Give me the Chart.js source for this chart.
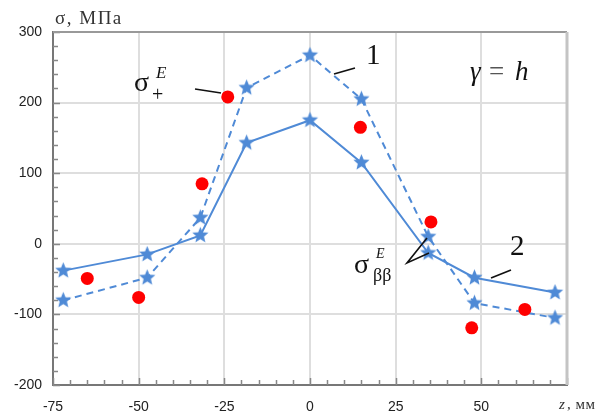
<!DOCTYPE html>
<html>
<head>
<meta charset="utf-8">
<script src="https://cdn.jsdelivr.net/npm/chart.js@4/dist/chart.umd.min.js"></script>
<style>
  body { margin: 0; background: #fff; }
  #wrap { width: 598px; height: 419px; }
</style>
</head>
<body>
<div id="wrap"><canvas id="chart" width="598" height="419"></canvas></div>
<script>
// z positions of the computed points (stars), mm
const zStars = [-72, -47.5, -32, -18.5, 0, 15, 34.5, 48, 71.5];
// curve 1 (dashed) and curve 2 (solid), MPa
const sigma1 = [-80, -48, 37, 221, 267, 205, 10, -84, -105];
const sigma2 = [-38, -15, 12, 143, 175, 115, -13, -48, -69];
// experimental points (red dots)
const zExp = [-65, -50, -31.5, -24, 14.7, 35.3, 47.2, 62.7];
const sigmaExp = [-49, -76, 85, 208, 165, 31, -119, -93];
// axis ticks
const xTicks = [-75, -50, -25, 0, 25, 50, 75];
const yTicks = [-200, -100, 0, 100, 200, 300];

const blue = '#4f8ad6';
const red = '#ff0000';

function makeStar(r, color) {
  const c = document.createElement('canvas');
  c.width = c.height = Math.ceil(2 * r + 2);
  const g = c.getContext('2d');
  const cx = c.width / 2, cy = c.height / 2;
  g.beginPath();
  for (let i = 0; i < 10; i++) {
    const rad = i % 2 === 0 ? r : r * 0.45;
    const a = -Math.PI / 2 + i * Math.PI / 5;
    const x = cx + rad * Math.cos(a), y = cy + rad * Math.sin(a);
    if (i === 0) g.moveTo(x, y); else g.lineTo(x, y);
  }
  g.closePath();
  g.fillStyle = color;
  g.fill();
  return c;
}
const star = makeStar(8.5, blue);

const toPts = (xs, ys) => xs.map((x, i) => ({ x: x, y: ys[i] }));

const serif = '"Liberation Serif", "DejaVu Serif", serif';

// minor ticks, frame and text labels
const extras = {
  id: 'extras',
  beforeDatasetsDraw(chart) {
    const { ctx, chartArea: a, scales: { x, y } } = chart;
    ctx.save();
    ctx.strokeStyle = '#888';
    ctx.lineWidth = 1.5;
    ctx.beginPath();
    for (let v = -75; v <= 75; v += 5) {
      const px = Math.round(x.getPixelForValue(v)) + 0.5;
      const len = v % 25 === 0 ? 7 : 5;
      ctx.moveTo(px, a.bottom); ctx.lineTo(px, a.bottom - len);
    }
    for (let v = -200; v <= 300; v += 20) {
      const py = Math.round(y.getPixelForValue(v)) + 0.5;
      const len = v % 100 === 0 ? 7 : 5;
      ctx.moveTo(a.left, py); ctx.lineTo(a.left + len, py);
    }
    ctx.stroke();
    // top and right frame
    ctx.strokeStyle = '#999';
    ctx.lineWidth = 2;
    ctx.beginPath();
    ctx.moveTo(a.left, a.top); ctx.lineTo(a.right, a.top);
    ctx.stroke();
    ctx.strokeStyle = '#c4c4c4';
    ctx.lineWidth = 3;
    ctx.beginPath();
    ctx.moveTo(a.right, a.top); ctx.lineTo(a.right, a.bottom);
    ctx.stroke();
    ctx.restore();
  },
  afterDraw(chart) {
    const { ctx } = chart;
    ctx.save();
    ctx.fillStyle = '#111';
    ctx.strokeStyle = '#111';
    ctx.textBaseline = 'alphabetic';
    ctx.textAlign = 'left';

    // axis titles
    ctx.font = '19px ' + serif;
    ctx.letterSpacing = '1.5px';
    ctx.fillStyle = '#333';
    ctx.fillText('σ, МПа', 55, 24);
    ctx.letterSpacing = '0.5px';
    ctx.font = 'italic 15px ' + serif;
    ctx.fillText('z', 559, 409);
    ctx.font = '15px ' + serif;
    ctx.fillText(', мм', 567, 409);
    ctx.letterSpacing = '0px';

    ctx.fillStyle = '#111';
    // sigma_+^E
    ctx.font = '28px ' + serif;
    ctx.fillText('σ', 134, 91);
    ctx.font = 'italic 17px ' + serif;
    ctx.fillText('E', 156, 78);
    ctx.font = '20px ' + serif;
    ctx.fillText('+', 152, 101);
    ctx.lineWidth = 1.6;
    ctx.beginPath();
    ctx.moveTo(195, 89); ctx.lineTo(221, 93);
    ctx.stroke();

    // curve 1 label
    ctx.font = '29px ' + serif;
    ctx.fillText('1', 366, 64);
    ctx.beginPath();
    ctx.moveTo(334, 74); ctx.lineTo(355, 68);
    ctx.stroke();

    // gamma = h
    ctx.font = 'italic 27px ' + serif;
    ctx.fillText('γ', 470, 80);
    ctx.font = '27px ' + serif;
    ctx.fillStyle = '#555';
    ctx.fillText('=', 489, 80);
    ctx.fillStyle = '#111';
    ctx.font = 'italic 27px ' + serif;
    ctx.fillText('h', 515, 80);

    // curve 2 label
    ctx.font = '29px ' + serif;
    ctx.fillText('2', 510, 255);
    ctx.beginPath();
    ctx.moveTo(491, 278); ctx.lineTo(511, 270);
    ctx.stroke();

    // sigma_bb^E
    ctx.font = '28px ' + serif;
    ctx.fillText('σ', 354, 273);
    ctx.font = 'italic 14px ' + serif;
    ctx.fillText('E', 376, 258);
    ctx.font = '18px ' + serif;
    ctx.fillText('ββ', 373, 281);
    ctx.beginPath();
    ctx.moveTo(427, 238); ctx.lineTo(407, 263); ctx.lineTo(429, 253);
    ctx.stroke();
    ctx.restore();
  }
};

new Chart(document.getElementById('chart'), {
  type: 'scatter',
  data: {
    datasets: [
      {
        label: 'exp',
        data: toPts(zExp, sigmaExp),
        showLine: false,
        pointStyle: 'circle',
        pointRadius: 6.5,
        pointBackgroundColor: red,
        pointBorderWidth: 0
      },
      {
        label: '1',
        data: toPts(zStars, sigma1),
        showLine: true,
        borderColor: blue,
        borderWidth: 2,
        borderDash: [7, 5],
        pointStyle: star,
        pointRadius: 8
      },
      {
        label: '2',
        data: toPts(zStars, sigma2),
        showLine: true,
        borderColor: blue,
        borderWidth: 2,
        pointStyle: star,
        pointRadius: 8
      }
    ]
  },
  options: {
    responsive: false,
    animation: false,
    layout: { padding: { top: 32, right: 31, left: 0, bottom: 0 } },
    plugins: { legend: { display: false }, tooltip: { enabled: false } },
    scales: {
      x: {
        type: 'linear',
        min: -75, max: 75,
        afterFit: s => { s.height = 34; },
        afterBuildTicks: s => { s.ticks = xTicks.map(v => ({ value: v })); },
        ticks: {
          padding: 14,
          color: '#222',
          font: { family: '"Liberation Sans", Arial, sans-serif', size: 14 },
          maxRotation: 0,
          callback: v => (v === 75 ? '' : v)
        },
        grid: { color: '#dedede', lineWidth: 2, drawTicks: false },
        border: { color: '#777', width: 2 }
      },
      y: {
        type: 'linear',
        min: -200, max: 300,
        afterFit: s => { s.width = 53; },
        afterBuildTicks: s => { s.ticks = yTicks.map(v => ({ value: v })); },
        ticks: {
          padding: 11,
          color: '#222',
          font: { family: '"Liberation Sans", Arial, sans-serif', size: 14 }
        },
        grid: { color: '#dedede', lineWidth: 2, drawTicks: false },
        border: { color: '#777', width: 2 }
      }
    }
  },
  plugins: [extras]
});
</script>
</body>
</html>
